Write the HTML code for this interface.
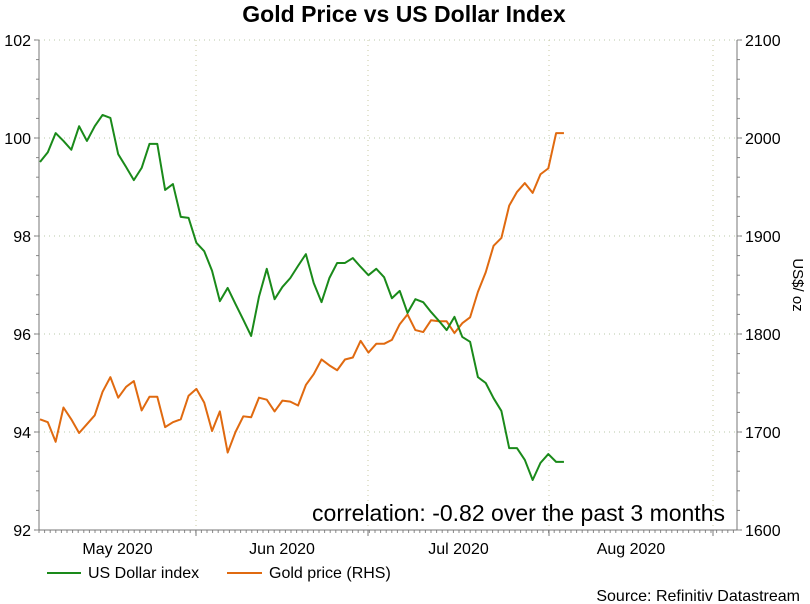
<!DOCTYPE html>
<html><head><meta charset="utf-8"><style>
html,body{margin:0;padding:0;background:#fff;}
svg{display:block;font-family:"Liberation Sans",Arial,sans-serif;}
</style></head><body>
<svg id="chart" width="810" height="604" viewBox="0 0 810 604">
<text x="404" y="22" text-anchor="middle" font-size="23" font-weight="bold" fill="#000">Gold Price vs US Dollar Index</text>
<g id="grid"></g>
<g id="axes"></g>
<g id="series"></g>
<text x="725" y="521" text-anchor="end" font-size="23" fill="#000">correlation: -0.82 over the past 3 months</text>
<text transform="translate(793,285) rotate(90)" text-anchor="middle" font-size="15" fill="#000">US$/ oz</text>
<g>
<line x1="47" y1="573" x2="81" y2="573" stroke="#1a8a1a" stroke-width="2"/>
<text x="88" y="578" font-size="16" fill="#000">US Dollar index</text>
<line x1="227" y1="573" x2="262" y2="573" stroke="#e06a10" stroke-width="2"/>
<text x="269" y="578" font-size="16" fill="#000">Gold price (RHS)</text>
</g>
<text x="800" y="601" text-anchor="end" font-size="16" fill="#000">Source: Refinitiv Datastream</text>
</svg>
<script>
const usdValues=[99.51,99.71,100.10,99.94,99.76,100.24,99.94,100.24,100.47,100.41,
99.67,99.41,99.14,99.39,99.88,99.88,98.94,99.06,98.39,98.37,
97.86,97.69,97.29,96.67,96.94,96.61,96.29,95.96,96.76,97.33,
96.71,96.96,97.14,97.39,97.63,97.04,96.65,97.14,97.45,97.45,
97.55,97.37,97.20,97.33,97.16,96.73,96.88,96.43,96.71,96.65,
96.45,96.27,96.08,96.35,95.94,95.84,95.12,95.00,94.69,94.43,
93.67,93.67,93.43,93.02,93.37,93.55,93.39,93.39];
const goldValues=[1713,1710,1690,1725,1713,1699,1708,1717,1741,1756,
1735,1746,1752,1722,1736,1736,1705,1710,1713,1737,
1744,1730,1701,1721,1679,1700,1716,1715,1735,1733,
1721,1732,1731,1727,1748,1759,1774,1768,1763,1774,
1776,1793,1781,1790,1790,1794,1810,1820,1804,1802,
1814,1813,1813,1801,1811,1817,1843,1863,1890,1898,
1931,1945,1954,1944,1963,1969,2005,2005];
const leftTicks=[92,94,96,98,100,102];
const rightTicks=[1600,1700,1800,1900,2000,2100];
const monthLabels=["May 2020","Jun 2020","Jul 2020","Aug 2020"];
const monthBoundaries=[196,368,549,713];

const NS="http://www.w3.org/2000/svg";
const L=39,R=737,T=40,B=530;
function yL(v){return B-(v-92)/10*(B-T);}
function yR(v){return B-(v-1600)/500*(B-T);}
function xI(i){return 40+i*7.82;}
function mk(tag,attrs,parent){const e=document.createElementNS(NS,tag);for(const k in attrs)e.setAttribute(k,attrs[k]);parent.appendChild(e);return e;}
const grid=document.getElementById('grid'),axes=document.getElementById('axes'),series=document.getElementById('series');

leftTicks.forEach((v,k)=>{
  const y=yL(v);
  if(k>0){const g=mk('line',{x1:L,y1:y,x2:R,y2:y,stroke:'#b8c8a8','stroke-width':1,'stroke-dasharray':'1 4'},grid);
  
  }
  const t=mk('text',{x:L-8,y:y+6,'text-anchor':'end','font-size':16,fill:'#000'},axes);
  t.textContent=v;
  
  
  mk('line',{x1:L-5,y1:y,x2:L,y2:y,stroke:'#777'},axes);
});
rightTicks.forEach(v=>{
  const y=yR(v);
  const t=mk('text',{x:R+8,y:y+6,'font-size':16,fill:'#000'},axes);
  t.textContent=v;
  
  
  mk('line',{x1:R,y1:y,x2:R+5,y2:y,stroke:'#777'},axes);
});
for(let y=B;y>=T-1;y-=19.6){mk('line',{x1:L-3,y1:y,x2:L,y2:y,stroke:'#888'},axes);mk('line',{x1:R,y1:y,x2:R+3,y2:y,stroke:'#888'},axes);}
for(let x=L;x<=R;x+=5.6){mk('line',{x1:x,y1:B,x2:x,y2:B+3,stroke:'#888'},axes);}
let prev=L;
monthBoundaries.forEach((xb,k)=>{
  const g=mk('line',{x1:xb,y1:T,x2:xb,y2:B,stroke:'#c8c8a0','stroke-width':1,'stroke-dasharray':'1 4'},grid);
  
  
  mk('line',{x1:xb,y1:B,x2:xb,y2:B+6,stroke:'#777'},axes);
  const t=mk('text',{x:(prev+xb)/2,y:554,'text-anchor':'middle','font-size':16,fill:'#000'},axes);
  t.textContent=monthLabels[k];
  
  
  prev=xb;
});
mk('line',{x1:L,y1:T,x2:L,y2:B,stroke:'#777'},axes);
mk('line',{x1:R,y1:T,x2:R,y2:B,stroke:'#777'},axes);
mk('line',{x1:L,y1:B,x2:R,y2:B,stroke:'#777'},axes);

const pg=mk('polyline',{points:goldValues.map((v,i)=>xI(i)+','+yR(v)).join(' '),fill:'none',stroke:'#e06a10','stroke-width':2,'stroke-linejoin':'round'},series);


const pu=mk('polyline',{points:usdValues.map((v,i)=>xI(i)+','+yL(v)).join(' '),fill:'none',stroke:'#1a8a1a','stroke-width':2,'stroke-linejoin':'round'},series);


</script>
</body></html>
